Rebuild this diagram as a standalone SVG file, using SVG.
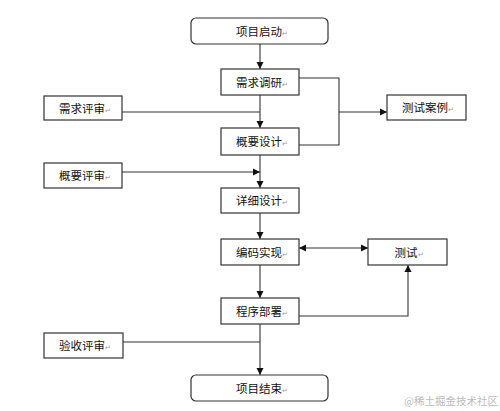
<svg xmlns="http://www.w3.org/2000/svg" width="500" height="411" viewBox="0 0 500 411">
<style>
.box{fill:#fff;stroke:#333;stroke-width:1.2}
.lbl{font-family:"Noto Sans CJK SC","Noto Sans CJK JP",sans-serif;font-size:11.5px;fill:#111;text-anchor:middle}
.pm{font-size:7px;fill:#999}
.ln{fill:none;stroke:#333;stroke-width:1.1}
.wm{font-family:"Noto Sans CJK SC",sans-serif;font-size:10.5px;fill:#bbb}
</style>
<defs>
<marker id="ah" markerWidth="8" markerHeight="8" refX="7" refY="4" orient="auto" markerUnits="userSpaceOnUse">
<path d="M0,0.5 L7,4 L0,7.5 Z" fill="#111"/>
</marker>
<marker id="as" markerWidth="8" markerHeight="8" refX="0" refY="4" orient="auto" markerUnits="userSpaceOnUse">
<path d="M7,0.5 L0,4 L7,7.5 Z" fill="#111"/>
</marker>
</defs>
<rect width="500" height="411" fill="#fff"/>
<g id="connectors">
<line class="ln" x1="260" y1="44" x2="260" y2="69" marker-end="url(#ah)"/>
<line class="ln" x1="260" y1="95" x2="260" y2="128" marker-end="url(#ah)"/>
<polyline class="ln" points="122,112 260,112"/>
<polyline class="ln" points="299,78 339,78 339,145 299,145"/>
<line class="ln" x1="339" y1="112" x2="387" y2="112" marker-end="url(#ah)"/>
<line class="ln" x1="260" y1="155" x2="260" y2="188" marker-end="url(#ah)"/>
<line class="ln" x1="122" y1="172" x2="260" y2="172" marker-end="url(#ah)"/>
<line class="ln" x1="260" y1="213" x2="260" y2="239" marker-end="url(#ah)"/>
<line class="ln" x1="299" y1="248" x2="368" y2="248" marker-start="url(#as)" marker-end="url(#ah)"/>
<line class="ln" x1="260" y1="265" x2="260" y2="298" marker-end="url(#ah)"/>
<polyline class="ln" points="299,316 408,316 408,265" marker-end="url(#ah)"/>
<line class="ln" x1="260" y1="324" x2="260" y2="375" marker-end="url(#ah)"/>
<line class="ln" x1="123" y1="342" x2="260" y2="342"/>
</g>
<g id="start"><rect class="box" x="191" y="18" width="137" height="26" rx="5"/><text class="lbl" x="262" y="35.5">项目启动<tspan class="pm">↵</tspan></text></g>
<g id="req"><rect class="box" x="221" y="69" width="78" height="26"/><text class="lbl" x="262" y="86.5">需求调研<tspan class="pm">↵</tspan></text></g>
<g id="reqReview"><rect class="box" x="44" y="96" width="78" height="24"/><text class="lbl" x="85" y="112.5">需求评审<tspan class="pm">↵</tspan></text></g>
<g id="design"><rect class="box" x="221" y="128" width="78" height="27"/><text class="lbl" x="262" y="146">概要设计<tspan class="pm">↵</tspan></text></g>
<g id="testCase"><rect class="box" x="387" y="95" width="79" height="25"/><text class="lbl" x="428" y="112">测试案例<tspan class="pm">↵</tspan></text></g>
<g id="designReview"><rect class="box" x="44" y="163" width="78" height="25"/><text class="lbl" x="85" y="180">概要评审<tspan class="pm">↵</tspan></text></g>
<g id="detail"><rect class="box" x="221" y="188" width="78" height="25"/><text class="lbl" x="262" y="205">详细设计<tspan class="pm">↵</tspan></text></g>
<g id="code"><rect class="box" x="221" y="239" width="78" height="26"/><text class="lbl" x="262" y="256.5">编码实现<tspan class="pm">↵</tspan></text></g>
<g id="test"><rect class="box" x="368" y="239" width="79" height="26"/><text class="lbl" x="409" y="256.5">测试<tspan class="pm">↵</tspan></text></g>
<g id="deploy"><rect class="box" x="221" y="298" width="78" height="26"/><text class="lbl" x="262" y="315.5">程序部署<tspan class="pm">↵</tspan></text></g>
<g id="acceptReview"><rect class="box" x="44" y="333" width="79" height="25"/><text class="lbl" x="85" y="350">验收评审<tspan class="pm">↵</tspan></text></g>
<g id="end"><rect class="box" x="191" y="375" width="137" height="26" rx="5"/><text class="lbl" x="262" y="392.5">项目结束<tspan class="pm">↵</tspan></text></g>
<text class="wm" x="404" y="405">@稀土掘金技术社区</text>
</svg>
